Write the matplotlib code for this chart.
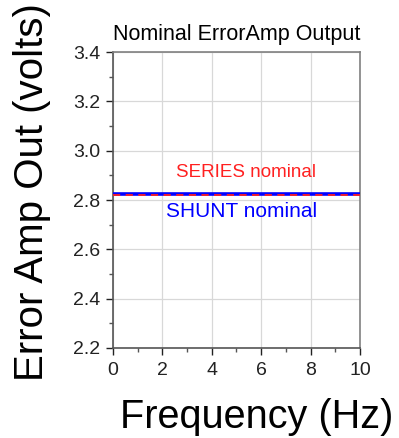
import matplotlib
matplotlib.use("Agg")
import matplotlib.pyplot as plt
from matplotlib.ticker import MultipleLocator

plt.rcParams['font.family'] = ['Liberation Sans', 'DejaVu Sans']

# Error amplifier output vs frequency, nominal case
freq = [0, 10]
shunt_out = [2.823, 2.823]
series_out = [2.821, 2.821]

x_ticks = [0, 2, 4, 6, 8, 10]
y_ticks = [2.2, 2.4, 2.6, 2.8, 3.0, 3.2, 3.4]

fig = plt.figure(figsize=(3.99, 4.38), dpi=100)
ax = fig.add_axes([0.283, 0.2055, 0.619, 0.6755])

ax.plot(freq, shunt_out, color='#0000ff', lw=2.6, solid_capstyle='butt', zorder=3)
ax.plot(freq, series_out, color='#ff2020', lw=1.3, ls=(0, (4, 3)), zorder=4)

ax.text(5.4, 2.913, "SERIES nominal", color='#ff2020', fontsize=13.5, ha='center', va='center')
ax.text(5.22, 2.755, "SHUNT nominal", color='#0000ff', fontsize=15, ha='center', va='center')

ax.set_xlim(0, 10)
ax.set_ylim(2.2, 3.4)
ax.set_xticks(x_ticks)
ax.set_yticks(y_ticks)
ax.set_yticklabels([f"{v:.1f}" for v in y_ticks])
ax.xaxis.set_minor_locator(MultipleLocator(1))
ax.yaxis.set_minor_locator(MultipleLocator(0.1))
ax.tick_params(which='major', direction='out', length=5, width=1, labelsize=14, colors='#222222')
ax.tick_params(which='minor', direction='out', length=3, width=1, colors='#555555')
ax.tick_params(axis='x', pad=5)
ax.tick_params(axis='y', pad=4)
ax.grid(True, which='major', color='#d8d8d8', lw=0.9)
ax.set_axisbelow(True)

for side in ['top', 'right']:
    ax.spines[side].set_color('#808080')
    ax.spines[side].set_linewidth(1.2)
for side in ['left', 'bottom']:
    ax.spines[side].set_color('#555555')
    ax.spines[side].set_linewidth(1.2)

ax.set_title("Nominal ErrorAmp Output", fontsize=15.5, pad=9)
ax.set_xlabel("Frequency (Hz)", fontsize=28.5)
ax.xaxis.set_label_coords(0.581, -0.17, transform=ax.transAxes)
ax.xaxis.label.set_va('top')
ax.set_ylabel("Error Amp Out (volts)", fontsize=29)
ax.yaxis.set_label_coords(-0.25, 0.527, transform=ax.transAxes)

fig.savefig("out.png", dpi=100)
